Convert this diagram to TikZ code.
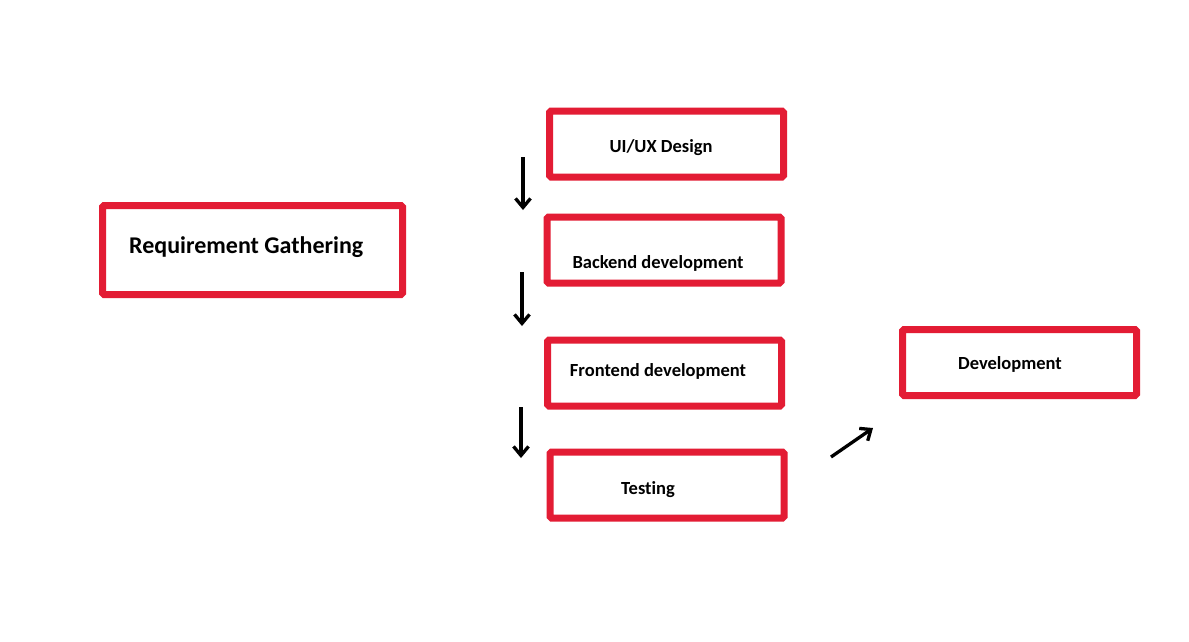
\documentclass[tikz,border=0pt]{standalone}
\usepackage{fontspec}
\setmainfont{Carlito}[Ligatures=NoCommon]
\usetikzlibrary{arrows.meta}
\definecolor{boxred}{RGB}{227,28,52}

\begin{document}
\begin{tikzpicture}[x=1pt,y=-1pt,
  box/.style={draw=boxred,line width=7pt,rounded corners=1.5pt,minimum width=234pt,minimum height=66pt,inner sep=0pt},
  lbl/.style={font=\bfseries\fontsize{18.5}{21}\selectfont,inner sep=0pt},
  arr/.style={line width=3.3pt,-{Straight Barb[length=9pt,width=15pt]}}]
\useasboundingbox[fill=white] (0,0) rectangle (1189,641);
\node[box,minimum width=300pt,minimum height=89pt] (req) at (252.5,250) {};
\node[box] (uiux)     at (666.5,144) {};
\node[box] (backend)  at (664,250) {};
\node[box] (frontend) at (664.5,373) {};
\node[box] (testing)  at (667,485) {};
\node[box] (develop)  at (1019.5,362.5) {};
\node[lbl,font=\bfseries\fontsize{24}{27}\selectfont,anchor=west] (reqtxt) at (129,247) {Requirement Gathering};
\node[lbl] (uiuxtxt)     at (661,148) {UI/UX Design};
\node[lbl] (backendtxt)  at (658,263) {Backend development};
\node[lbl] (frontendtxt) at (658,371) {Frontend development};
\node[lbl] (testingtxt)  at (648,490) {Testing};
\node[lbl] (developtxt)  at (1010,364) {Development};
% free arrows
\coordinate (a1) at (523,157); \coordinate (b1) at (523,210);
\coordinate (a2) at (522,272); \coordinate (b2) at (522,326);
\coordinate (a3) at (521,407); \coordinate (b3) at (521,458);
\coordinate (a4) at (831,457); \coordinate (b4) at (873,428);
\draw[arr] (a1) -- (b1);
\draw[arr] (a2) -- (b2);
\draw[arr] (a3) -- (b3);
\draw[arr] (a4) -- (b4);
\end{tikzpicture}
\end{document}
